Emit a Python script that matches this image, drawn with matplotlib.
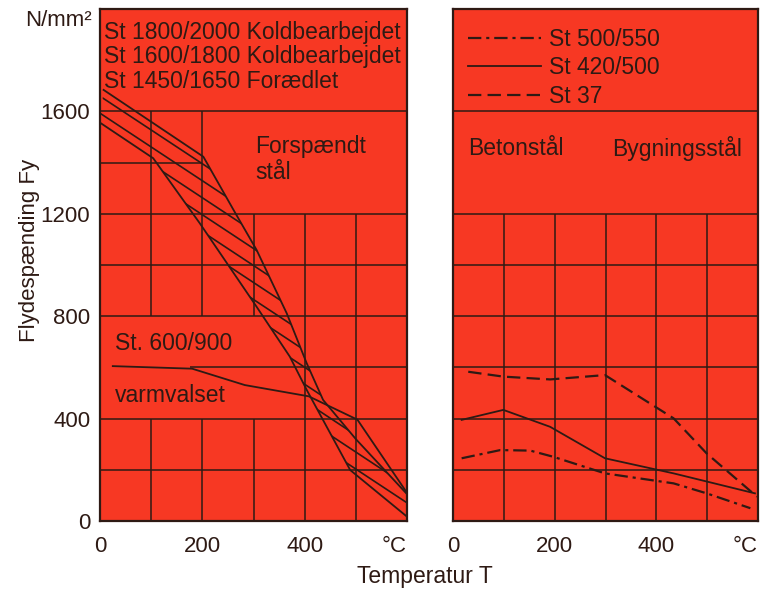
import matplotlib
matplotlib.use('Agg')
import matplotlib.pyplot as plt
from matplotlib.patches import Polygon
from matplotlib.collections import LineCollection
import numpy as np

plt.rcParams['font.family'] = ['Liberation Sans', 'DejaVu Sans']

RED = '#f73823'
INK = '#2e1a14'
FS = 16.5
FST = 16

# ---------------- data: left panel (prestressing steel, hot rolled) -------------
# upper edge of the cold-worked / quenched band
temp_upper = [7, 202, 261, 306, 365, 404, 436, 500, 600]
fy_upper = [1684, 1423, 1215, 1059, 811, 616, 473, 320, 105]
# lower edge of the band
temp_lower = [0, 104, 195, 306, 371, 404, 489, 600]
fy_lower = [1556, 1417, 1163, 837, 642, 512, 199, 17]
# hot-rolled St. 600/900
temp_600 = [25, 180, 283, 408, 503, 600]
fy_600 = [605, 595, 531, 487, 396, 110]

# ---------------- data: right panel (reinforcing / structural steel) ------------
temp_st37 = [30, 99, 191, 299, 434, 499, 598]
fy_st37 = [583, 564, 553, 570, 401, 264, 95]
temp_420 = [17, 99, 191, 299, 434, 594]
fy_420 = [395, 434, 368, 245, 186, 108]
temp_500 = [17, 93, 152, 197, 299, 434, 499, 585]
fy_500 = [245, 277, 275, 251, 186, 147, 108, 50]

left_titles = ['St 1800/2000 Koldbearbejdet', 'St 1600/1800 Koldbearbejdet',
               'St 1450/1650 Forædlet']
legend_labels = ['St 500/550', 'St 420/500', 'St 37']
xticks = [0, 200, 400, 600]
xticklabels = ['0', '200', '400', '°C']
yticks = [0, 400, 800, 1200, 1600]
yticklabels = ['0', '400', '800', '1200', '1600']

fig = plt.figure(figsize=(7.62, 5.90), dpi=100)
W, H = 762, 590
axL = fig.add_axes([100 / W, 1 - 521 / H, 307 / W, 512 / H])
axR = fig.add_axes([453 / W, 1 - 521 / H, 305 / W, 512 / H])

GLW = 1.1
for ax in (axL, axR):
    ax.set_facecolor(RED)
    ax.set_xlim(0, 600)
    ax.set_ylim(0, 2000)
    for s in ax.spines.values():
        s.set_linewidth(1.6)
        s.set_color(INK)
    ax.set_xticks(xticks)
    ax.set_xticklabels(xticklabels)
    ax.tick_params(axis='x', length=0, pad=11, labelsize=FST, labelcolor=INK)
    ax.tick_params(axis='y', length=0, pad=7, labelsize=FST, labelcolor=INK)
    ax.get_xticklabels()[-1].set_horizontalalignment('right')

axL.set_yticks(yticks)
axL.set_yticklabels(yticklabels)
axR.set_yticks([])

# ---------- grid (left panel: with label boxes left free) ----------
gk = dict(color=INK, linewidth=GLW, zorder=1)
axL.hlines(1600, 0, 600, **gk)
axL.hlines(1400, 0, 200, **gk)
for y in (1200, 1000, 800, 400, 200):
    axL.hlines(y, 0, 600, **gk)
axL.hlines(600, 175, 600, **gk)
axL.vlines([100, 200], 800, 1600, **gk)
axL.vlines([100, 200, 300], 0, 400, **gk)
axL.vlines(300, 800, 1200, **gk)
axL.vlines([400, 500], 0, 1200, **gk)

# ---------- grid right panel ----------
axR.hlines(1600, 0, 600, **gk)
for y in (1200, 1000, 800, 600, 400, 200):
    axR.hlines(y, 0, 600, **gk)
axR.vlines([100, 200, 300, 400, 500], 0, 1200, **gk)

# ---------- left curves: hatched band ----------
lk = dict(color=INK, linewidth=1.3, zorder=3)
band = Polygon(np.column_stack([list(temp_upper) + list(temp_lower)[::-1],
                                list(fy_upper) + list(fy_lower)[::-1]]),
               closed=True, transform=axL.transData,
               facecolor='none', edgecolor='none')
axL.add_patch(band)
# hatch lines (style): slanted parallel lines clipped to the band
ax_w_px, ax_h_px = 307.0, 512.0
slope = -0.66 * ax_w_px / ax_h_px
step = 17.0 / ax_h_px
offsets = np.arange(-0.1, 1.6, step)
segs = [[(0.0, c), (1.0, c + slope)] for c in offsets]
lc = LineCollection(segs, transform=axL.transAxes, colors=INK,
                    linewidths=1.2, zorder=2)
lc.set_clip_path(band)
axL.add_collection(lc)
axL.plot(temp_upper, fy_upper, **lk)
axL.plot(temp_lower, fy_lower, **lk)
axL.plot(temp_600, fy_600, **lk)

tk = dict(fontsize=FS, color=INK, va='center', ha='left')
for i, t in enumerate(left_titles):
    axL.text(8, 1910 - i * 96, t, **tk)
axL.text(303, 1461, 'Forspændt', **tk)
axL.text(303, 1363, 'stål', **tk)
axL.text(29, 695, 'St. 600/900', **tk)
axL.text(29, 492, 'varmvalset', **tk)

# ---------- right curves ----------
dash_st37 = (0, (6, 2.8))
dash_500 = (0, (6, 2.2, 1.4, 2.2))
rk = dict(color=INK, linewidth=1.6, zorder=3)
l500, = axR.plot(temp_500, fy_500, linestyle=dash_500, **rk)
l420, = axR.plot(temp_420, fy_420, color=INK, linewidth=1.3, zorder=3)
l37, = axR.plot(temp_st37, fy_st37, linestyle=dash_st37, **rk)

leg = axR.legend([l500, l420, l37], legend_labels, loc='upper left',
                 bbox_to_anchor=(0.049, 0.962), borderaxespad=0, borderpad=0,
                 frameon=False, fontsize=FS, handlelength=3.2,
                 handletextpad=0.35, labelspacing=0.22)
for t in leg.get_texts():
    t.set_color(INK)

axR.text(30, 1457, 'Betonstål', **tk)
axR.text(313, 1457, 'Bygningsstål', **tk)

fig.text(92 / W, 1 - 20 / H, 'N/mm²', fontsize=FST, color=INK, ha='right', va='center')
fig.text(30 / W, 1 - 250 / H, 'Flydespænding Fy', fontsize=FST, color=INK,
         ha='center', va='center', rotation=90)
fig.text(425 / W, 1 - 577 / H, 'Temperatur T', fontsize=FS, color=INK,
         ha='center', va='center')

fig.savefig('out.png', dpi=100, facecolor='white')
